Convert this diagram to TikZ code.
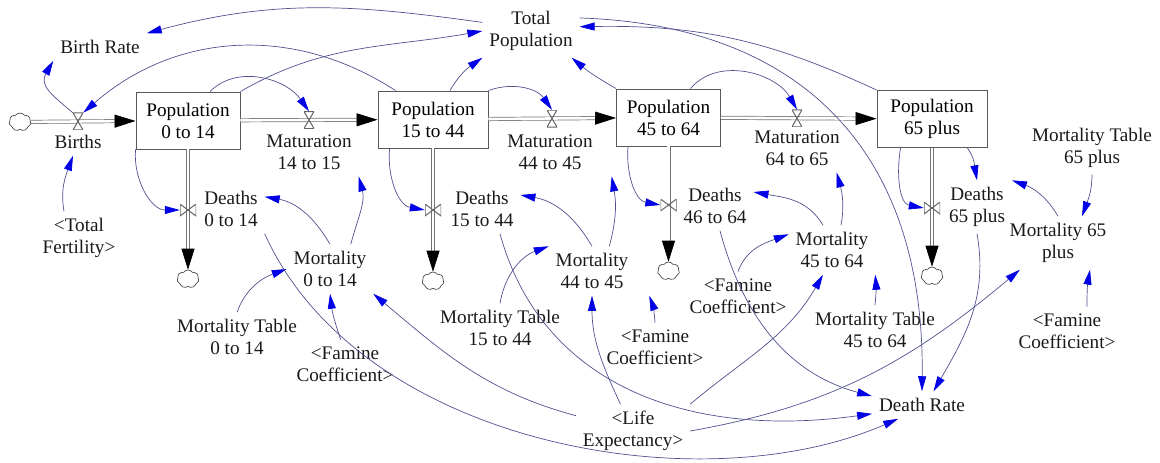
\documentclass[tikz,border=0pt]{standalone}
\usepackage{fontspec}
\setmainfont{Liberation Serif}
\usetikzlibrary{arrows.meta, shapes.symbols}
\definecolor{linkc}{RGB}{80,80,145}
\definecolor{tipc}{RGB}{0,0,230}
\begin{document}
\begin{tikzpicture}[x=1pt, y=1pt, font=\fontsize{19.2}{22}\selectfont,
stock/.style={draw=black!65, line width=0.9pt, minimum width=104pt, minimum height=57pt, align=center, inner sep=2pt},
var/.style={align=center, inner sep=3pt, outer sep=4pt, text=black!90},
cloudy/.style={cloud, draw=black!80, cloud puffs=7, cloud puff arc=110, aspect=1.2, minimum width=22pt, minimum height=18pt, inner sep=0pt, line width=0.6pt},
pipe/.style={draw=black!55, double=white, double distance=2.6pt, line width=0.7pt, -{Triangle[length=21pt,width=13pt,color=black]}},
valveh/.style={minimum width=10pt, minimum height=17pt, inner sep=0pt, path picture={
\draw[black!60, line width=1pt] (path picture bounding box.north west) -- (path picture bounding box.north east) -- (path picture bounding box.south west) -- (path picture bounding box.south east) -- cycle;
}},
valvev/.style={minimum width=16pt, minimum height=12pt, inner sep=0pt, path picture={
\draw[black!60, line width=1pt] (path picture bounding box.north west) -- (path picture bounding box.south west) -- (path picture bounding box.north east) -- (path picture bounding box.south east) -- cycle;
}},
link/.style={draw=linkc, line width=0.7pt, -{Triangle[length=15pt,width=8pt,color=tipc]}}]
\useasboundingbox (0,0) rectangle (1160,-463);

\node[stock] (p1) at (188,-120.5) {Population\\0 to 14};
\node[stock, minimum width=110pt] (p2) at (433,-119.5) {Population\\15 to 44};
\node[stock] (p3) at (668.5,-117.5) {Population\\45 to 64};
\node[stock, minimum width=110pt] (p4) at (932,-119) {Population\\65 plus};

\node[cloudy] (src) at (20,-122) {};
\node[cloudy] (c1) at (188,-279) {};
\node[cloudy] (c2) at (433,-281) {};
\node[cloudy] (c3) at (668.5,-271) {};
\node[cloudy] (c4) at (932,-276) {};

\draw[pipe] (src) -- (p1);
\draw[pipe] (p1) -- (p2);
\draw[pipe] (p2) -- (p3);
\draw[pipe] (p3) -- (p4);
\draw[pipe] (p1) -- (c1);
\draw[pipe] (p2) -- (c2);
\draw[pipe] (p3) -- (c3);
\draw[pipe] (p4) -- (c4);

\node[valveh] (v0) at (78,-121.4) {};
\node[valveh] (vm1) at (309,-120) {};
\node[valveh] (vm2) at (552,-118.5) {};
\node[valveh] (vm3) at (797,-118.3) {};
\node[valvev] (vd1) at (188,-210) {};
\node[valvev] (vd2) at (433,-210) {};
\node[valvev] (vd3) at (668.5,-205) {};
\node[valvev] (vd4) at (932,-208) {};

\node[var] (births) at (78,-142) {Births};
\node[var] (mat1) at (309,-152) {Maturation\\14 to 15};
\node[var] (mat2) at (550,-152) {Maturation\\44 to 45};
\node[var] (mat3) at (797,-148) {Maturation\\64 to 65};
\node[var] (dth1) at (231,-209) {Deaths\\0 to 14};
\node[var] (dth2) at (482,-209) {Deaths\\15 to 44};
\node[var] (dth3) at (715,-206) {Deaths\\46 to 64};
\node[var] (dth4) at (977,-207) {Deaths\\65 plus};
\node[var] (br) at (100,-47) {Birth Rate};
\node[var] (tp) at (531,-31) {Total\\Population};
\node[var] (tf) at (79,-238) {<Total\\Fertility>};
\node[var] (m1) at (330,-269) {Mortality\\0 to 14};
\node[var] (mt1) at (237,-337) {Mortality Table\\0 to 14};
\node[var] (fc1) at (345,-364) {<Famine\\Coefficient>};
\node[var] (m2) at (592,-271) {Mortality\\44 to 45};
\node[var] (mt2) at (500,-328) {Mortality Table\\15 to 44};
\node[var] (fc2) at (655,-347) {<Famine\\Coefficient>};
\node[var] (le) at (633,-431) {<Life\\Expectancy>};
\node[var] (fc3) at (738,-296) {<Famine\\Coefficient>};
\node[var] (m3) at (832,-250) {Mortality\\45 to 64};
\node[var] (mt3) at (875,-330) {Mortality Table\\45 to 64};
\node[var] (dr) at (922,-405) {Death Rate};
\node[var] (m4) at (1058,-243) {Mortality 65\\plus};
\node[var] (mt4) at (1092,-148) {Mortality Table\\65 plus};
\node[var] (fc4) at (1067,-331) {<Famine\\Coefficient>};

\draw[link] (tp.170) to[out=172,in=15] (br.north east);
\draw[link] (v0.north west) to[out=140,in=240,looseness=1.3] (br.south west);
\draw[link] (p1.north east) to[out=30,in=190] (tp.west);
\draw[link] ([xshift=18pt]p2.north west) to[bend right=37] (v0.north east);
\draw[link] ([xshift=22pt]p1.north) to[out=45,in=125] (vm1.north);
\draw[link] (p1.south west) to[out=-95,in=180] (vd1.west);
\draw[link] ([xshift=-15pt]tf.north) to[out=100,in=250] (births.250);
\draw[link] (m1.north) to[out=120,in=-10] (dth1.20);
\draw[link] (m1.50) to[out=75,in=-75] (mat1.south east);
\draw[link] (mt1.north) to[out=70,in=200] (m1.west);
\draw[link] (fc1.100) to[bend left=6] (m1.south);
\draw[link] (le.165) to[out=165,in=-40] (m1.south east);
\draw[link] (m2.north) to[out=120,in=-10] (dth2.20);
\draw[link] (m2.55) to[out=75,in=-80] ([xshift=12pt]mat2.south east);
\draw[link] (mt2.north) to[out=80,in=200] (m2.north west);
\draw[link] (fc2.north) to[bend right=8] ([xshift=14pt]m2.south east);
\draw[link] (le.115) to[out=115,in=-90] (m2.south);
\draw[link] (m3.110) to[out=120,in=-10] (dth3.20);
\draw[link] (m3.70) to[out=80,in=-75] ([xshift=-10pt]mat3.south east);
\draw[link] (fc3.north) to[out=70,in=200] (m3.160);
\draw[link] (mt3.north) to[bend right=5] (m3.south east);
\draw[link] (le.north east) to[out=40,in=-120] (m3.250);
\draw[link] (m4.north) to[out=120,in=-20] (dth4.north east);
\draw[link] (mt4.south) to[out=-90,in=70] ([xshift=24pt]m4.north);
\draw[link] ([xshift=20pt]fc4.north) to[bend left=5] ([xshift=32pt]m4.south);
\draw[link] (le.east) to[out=10,in=-140] (m4.215);
\draw[link] (dth1.south east) .. controls (360,-445) and (700,-505) .. (dr.210);
\draw[link] ([xshift=18pt]dth2.south) .. controls (540,-380) and (680,-440) .. (dr.190);
\draw[link] ([xshift=5pt]dth3.south) to[out=-75,in=165] (dr.170);
\draw[link] (dth4.south) to[out=-80,in=60] (dr.50);
\draw[link] (tp.15) .. controls (800,-25) and (925,-150) .. (dr.north);
\draw[link] (p4.north west) to[bend right=13] (tp.5);
\draw[link] ([xshift=17pt]p2.north) to[out=60,in=215] (tp.south west);
\draw[link] (p3.north west) to[bend left=5] ([xshift=-8pt]tp.south east);
\draw[link] (p2.north east) to[out=20,in=125] (vm2.north);
\draw[link] ([xshift=22pt]p3.north) to[out=50,in=120] (vm3.north);
\draw[link] ([xshift=12pt]p2.south west) to[out=-95,in=170] (vd2.west);
\draw[link] ([xshift=12pt]p3.south west) to[out=-95,in=170] (vd3.west);
\draw[link] ([xshift=24pt]p4.south west) to[out=-100,in=170] (vd4.west);
\draw[link] ([xshift=-20pt]p4.south east) to[out=-55,in=100] (dth4.north);
\end{tikzpicture}
\end{document}
